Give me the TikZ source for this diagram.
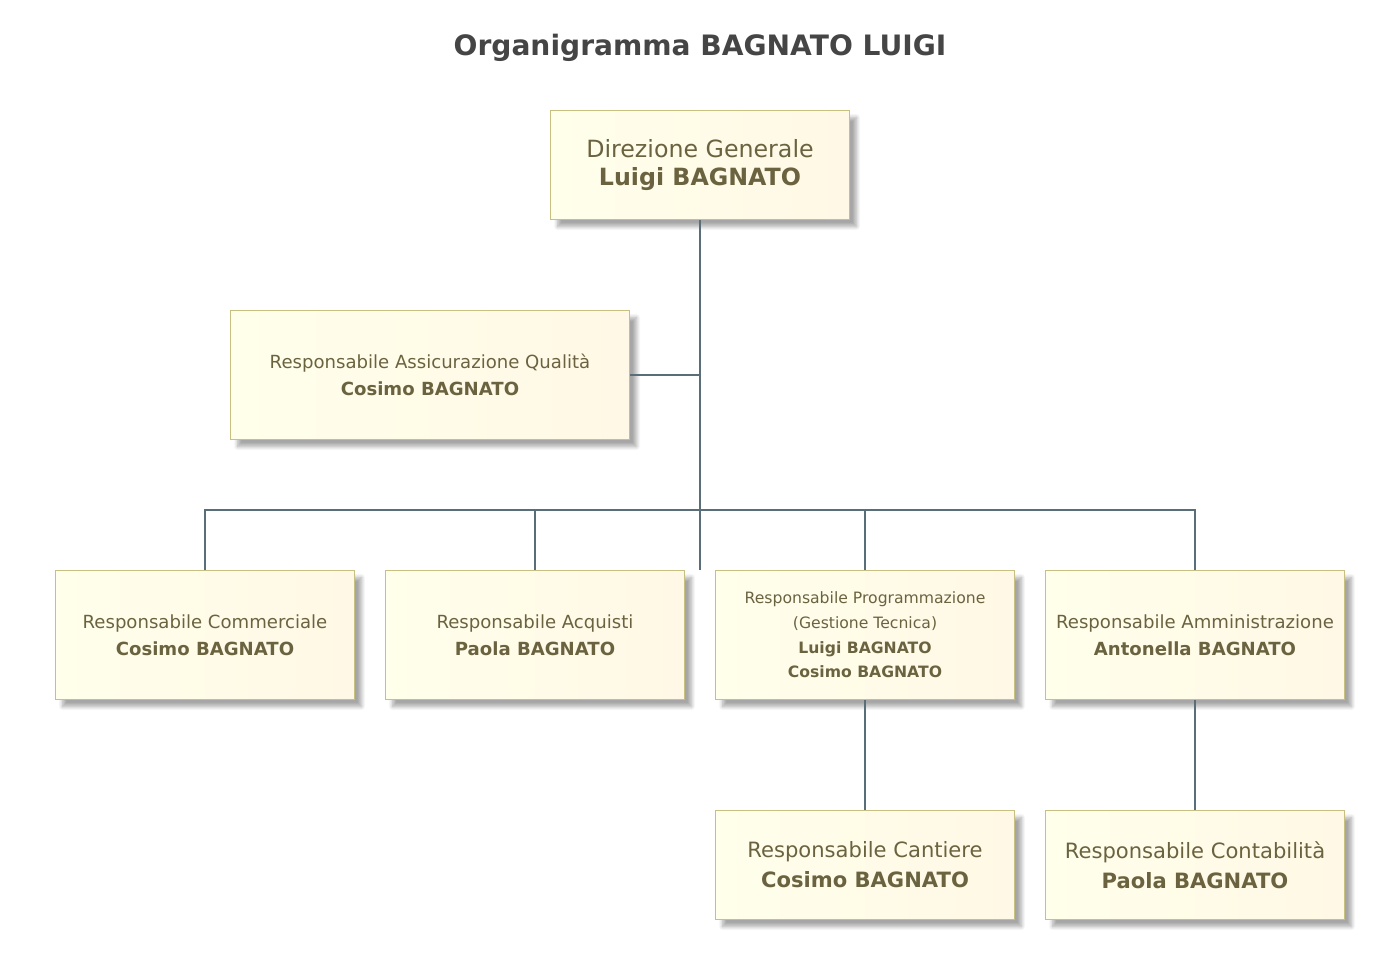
\documentclass[tikz,border=0pt]{standalone}
\usepackage{fontspec}
\setmainfont{DejaVu Sans}
\usetikzlibrary{positioning,shadows.blur}
\definecolor{boxtext}{HTML}{6B6340}
\definecolor{boxline}{HTML}{C8C080}
\definecolor{linkline}{HTML}{5A6E7A}
\tikzset{
  box/.style={rectangle,draw=boxline,line width=0.6pt,align=center,text=boxtext,
    minimum width=5.98cm,minimum height=2.58cm,inner sep=2pt,
    shading angle=135,left color=yellow!8,right color=yellow!45!orange!10!white,
    blur shadow={shadow xshift=4pt,shadow yshift=-4pt,shadow blur steps=8,shadow opacity=35}},
  bigbox/.style={box,minimum height=2.18cm,font=\fontsize{13.5}{16}\selectfont},
  midbox/.style={box,font=\fontsize{10.3}{15.5}\selectfont},
  link/.style={draw=linkline,line width=0.9pt}
}
\newcommand{\px}{0.02}
\begin{document}
\begin{tikzpicture}[x=0.02cm,y=-0.02cm]
  \useasboundingbox (0,0) rectangle (1400,980);
  \node[font=\bfseries\fontsize{16}{18}\selectfont,text=black!73] (title) at (700,48) {Organigramma BAGNATO LUIGI};

  \node[bigbox,minimum height=2.18cm] (dir) at (700,165) {Direzione Generale\\\textbf{Luigi BAGNATO}};
  \node[midbox,minimum width=7.98cm] (raq) at (430,375) {Responsabile Assicurazione Qualità\\\textbf{Cosimo BAGNATO}};

  \node[midbox] (comm) at (205,635) {Responsabile Commerciale\\\textbf{Cosimo BAGNATO}};
  \node[midbox] (acq) at (535,635) {Responsabile Acquisti\\\textbf{Paola BAGNATO}};
  \node[box,font=\fontsize{8.9}{14}\selectfont] (prog) at (865,635) {Responsabile Programmazione\\(Gestione Tecnica)\\\textbf{Luigi BAGNATO}\\\textbf{Cosimo BAGNATO}};
  \node[midbox] (amm) at (1195,635) {Responsabile Amministrazione\\\textbf{Antonella BAGNATO}};

  \node[bigbox,font=\fontsize{12}{17}\selectfont] (cant) at (865,865) {Responsabile Cantiere\\\textbf{Cosimo BAGNATO}};
  \node[bigbox,font=\fontsize{12}{17}\selectfont] (cont) at (1195,865) {Responsabile Contabilità\\\textbf{Paola BAGNATO}};

  % connectors
  \coordinate (bus) at (700,510);
  \coordinate (trunk) at (700,570);
  \draw[link] (dir.south) -- (trunk);
  \draw[link] (raq.east) -- (raq.east -| dir.south);
  \draw[link] (comm.north) |- (bus) -| (amm.north);
  \draw[link] (acq.north) -- (acq.north |- bus);
  \draw[link] (prog.north) -- (prog.north |- bus);
  \draw[link] (prog.south) -- (cant.north);
  \draw[link] (amm.south) -- (cont.north);
\end{tikzpicture}
\end{document}
